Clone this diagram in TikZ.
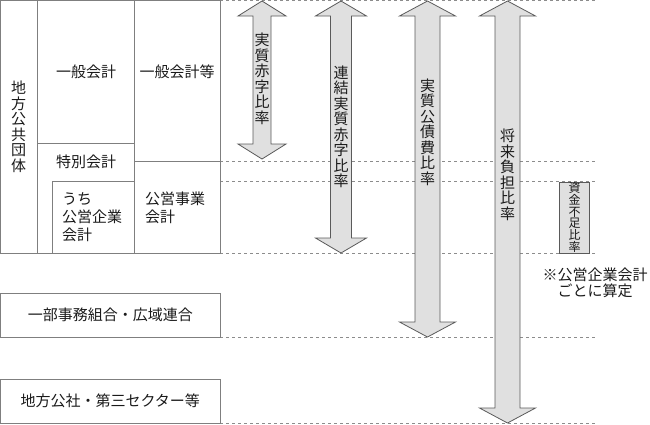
\documentclass[tikz,border=0pt]{standalone}
\usepackage{fontspec}
\setmainfont{Noto Sans CJK JP}
\usetikzlibrary{positioning}
\definecolor{boxline}{HTML}{7F7F7F}
\definecolor{guidegray}{HTML}{8C8C8C}
\definecolor{arrowline}{HTML}{5A5A5A}
\definecolor{arrowfill}{HTML}{E0E0E0}
\definecolor{textgray}{HTML}{1A1A1A}

% range arrow: x, top, bottom, shaft half width, head half width
\newcommand{\ratioarrow}[5]{%
  \draw[ratio] (#1,#2) -- (#1+#5,#2+15) -- (#1+#4,#2+15) -- (#1+#4,#3-15)
    -- (#1+#5,#3-15) -- (#1,#3) -- (#1-#5,#3-15) -- (#1-#4,#3-15)
    -- (#1-#4,#2+15) -- (#1-#5,#2+15) -- cycle;}

\begin{document}
\begin{tikzpicture}[x=1pt, y=-1pt,
  lbl/.style = {text=textgray, font=\fontsize{15}{15.5}\selectfont, inner sep=0pt, align=center},
  unit/.style = {lbl, draw=boxline, line width=0.9pt, minimum width=219.5pt, minimum height=44pt},
  frame/.style = {draw=boxline, line width=0.9pt},
  guide/.style = {draw=guidegray, line width=0.8pt, dash pattern=on 3pt off 3pt},
  ratio/.style = {draw=arrowline, fill=arrowfill, line width=0.8pt}]

        \useasboundingbox (0,0) rectangle (650,424);

        % dashed guide lines
        \foreach \y in {0.5,161,181,253,337,423.5}
            \draw[guide] (220,\y) -- (595,\y);

        % local government block
        \draw[frame] (0.5,0.5) rectangle (220,253);
        \draw[frame] (37,0.5) -- (37,253);
        \draw[frame] (134,0.5) -- (134,253);
        \draw[frame] (37,143) -- (134,143);
        \draw[frame] (134,161) -- (220,161);
        \draw[frame] (52,181) rectangle (134,253);

        \node[lbl] (gov) at (18.5,127) {地\\方\\公\\共\\団\\体};
        \node[lbl] (general) at (86,72) {一般会計};
        \node[lbl] (generaletc) at (177,72) {一般会計等};
        \node[lbl] (special) at (86,162) {特別会計};
        \node[lbl, anchor=west, align=left, font=\fontsize{15}{18}\selectfont] (enterprise) at (62,217) {うち\\公営企業\\会計};
        \node[lbl, anchor=west, align=left, font=\fontsize{15}{17.5}\selectfont] (public) at (145,208) {公営事業\\会計};

        \node[unit] (union) at (110.25,315) {一部事務組合・広域連合};
        \node[unit] (corp) at (110.25,401) {地方公社・第三セクター等};

        % ratio arrows
        \ratioarrow{262}{1}{159}{9}{24}
        \ratioarrow{341}{1}{253}{10.5}{25.5}
        \ratioarrow{427.5}{1}{337}{12.5}{28}
        \ratioarrow{507.5}{1}{423}{12.5}{28}

        \node[lbl] (deficit) at (262,79) {実\\質\\赤\\字\\比\\率};
        \node[lbl] (consol) at (341,127) {連\\結\\実\\質\\赤\\字\\比\\率};
        \node[lbl] (debt) at (427.5,132) {実\\質\\公\\債\\費\\比\\率};
        \node[lbl] (future) at (507.5,175) {将\\来\\負\\担\\比\\率};

        \node[lbl, draw=arrowline, fill=arrowfill, line width=0.8pt, minimum width=30pt, minimum height=71pt,
              font=\fontsize{12}{11.8}\selectfont] (fund) at (574.5,217.5) {資\\金\\不\\足\\比\\率};
        \node[lbl] (note) at (595,283) {※公営企業会計\\ごとに算定};

\end{tikzpicture}
\end{document}
